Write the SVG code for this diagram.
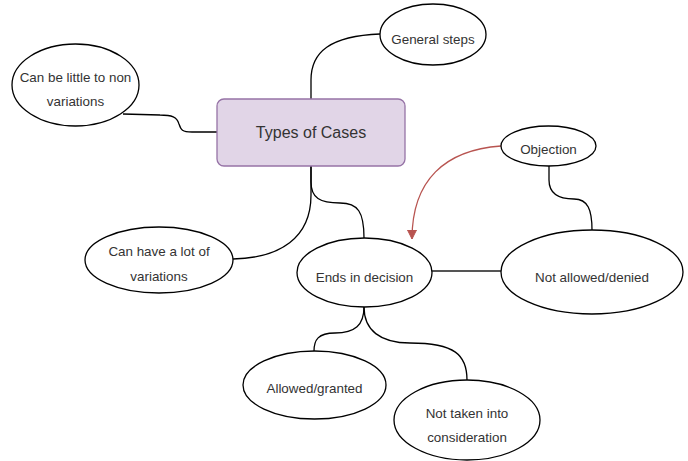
<svg xmlns="http://www.w3.org/2000/svg" width="688" height="461" viewBox="0 0 688 461">
<defs>
<style>
.n{fill:#ffffff;stroke:#000000;stroke-width:1.3}
.t{font-family:"Liberation Sans",Arial,sans-serif;font-size:13.4px;fill:#333333;text-anchor:middle}
.e{fill:none;stroke:#000000;stroke-width:1.3}
</style>
<marker id="ah" markerWidth="12" markerHeight="12" refX="9" refY="4.5" orient="auto" markerUnits="userSpaceOnUse">
<path d="M0,0 L9,4.5 L0,9 Z" fill="#b85450" stroke="#b85450"/>
</marker>
</defs>
<rect width="688" height="461" fill="#ffffff"/>
<g id="connectors">
<path class="e" d="M217,132 L192,132 C182,132 181,130 179,124 C177,117 172,115 160,115 L123,114"/>
<path class="e" d="M311,99 L311,80 C311,52 330,36 380,34"/>
<path class="e" d="M311,166 L311,195 C311,238 280,258 233,259"/>
<path class="e" d="M311,166 L311,182 C311,198 320,203 340,203 C358,203 364,212 364,238"/>
<path d="M432,271 L501,271" fill="none" stroke="#555555" stroke-width="2.2"/>
<path class="e" d="M549,166 L549,180 C549,194 560,199 574,199 C588,199 592,210 592,230"/>
<path class="e" d="M364,307 C364,325 355,333 335,333 C318,333 314,340 314,351"/>
<path class="e" d="M364,307 C364,330 380,343 410,343 C455,343 467,355 467,380"/>
<path d="M501,146 C445,150 412,180 412,239" fill="none" stroke="#b85450" stroke-width="1.3" marker-end="url(#ah)"/>
</g>
<g id="types">
<rect x="217" y="99" width="188" height="67" rx="7" fill="#e1d5e7" stroke="#9673a6" stroke-width="1.3"/>
<text x="311" y="138" class="t" style="font-size:16px">Types of Cases</text>
</g>
<g id="little">
<ellipse class="n" cx="75.5" cy="85" rx="63.5" ry="41"/>
<text x="75.5" y="82" class="t">Can be little to non</text>
<text x="75.5" y="106" class="t">variations</text>
</g>
<g id="general">
<ellipse class="n" cx="433" cy="34.5" rx="53" ry="30.5"/>
<text x="433" y="44" class="t">General steps</text>
</g>
<g id="objection">
<ellipse class="n" cx="548.5" cy="146" rx="47.5" ry="20"/>
<text x="548.5" y="154" class="t">Objection</text>
</g>
<g id="lot">
<ellipse class="n" cx="159" cy="260" rx="74" ry="33"/>
<text x="159" y="256" class="t">Can have a lot of</text>
<text x="159" y="281" class="t">variations</text>
</g>
<g id="ends">
<ellipse class="n" cx="364.5" cy="272.5" rx="67.5" ry="34.5"/>
<text x="364.5" y="282" class="t">Ends in decision</text>
</g>
<g id="denied">
<ellipse class="n" cx="592" cy="272" rx="91" ry="42"/>
<text x="592" y="282" class="t">Not allowed/denied</text>
</g>
<g id="granted">
<ellipse class="n" cx="314.5" cy="385" rx="71.5" ry="34"/>
<text x="314.5" y="393" class="t">Allowed/granted</text>
</g>
<g id="nottaken">
<ellipse class="n" cx="467" cy="420" rx="73" ry="40"/>
<text x="467" y="418" class="t">Not taken into</text>
<text x="467" y="442" class="t">consideration</text>
</g>
</svg>
